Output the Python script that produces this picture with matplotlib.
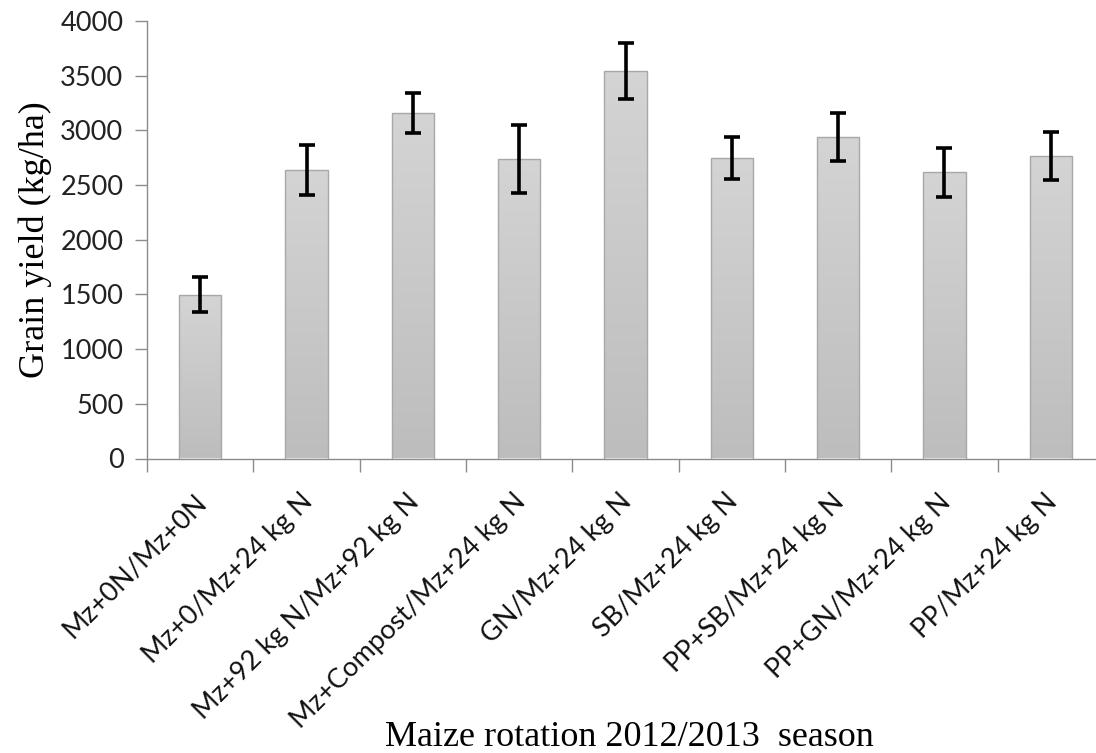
import numpy as np
import matplotlib.pyplot as plt
from matplotlib.ticker import FixedLocator
from matplotlib.colors import LinearSegmentedColormap

# maize grain yield per rotation treatment, 2012/2013
treatments = ["Mz+0N/Mz+0N", "Mz+0/Mz+24 kg N", "Mz+92 kg N/Mz+92 kg N",
              "Mz+Compost/Mz+24 kg N", "GN/Mz+24 kg N", "SB/Mz+24 kg N",
              "PP+SB/Mz+24 kg N", "PP+GN/Mz+24 kg N", "PP/Mz+24 kg N"]
yield_mean = [1495, 2640, 3160, 2740, 3545, 2750, 2940, 2615, 2765]
yield_err = [160, 230, 180, 310, 255, 190, 220, 225, 220]
yticks = [0, 500, 1000, 1500, 2000, 2500, 3000, 3500, 4000]

fig = plt.figure(figsize=(10.96, 7.53), dpi=100)
ax = fig.add_axes([147 / 1096, 1 - 458.5 / 753, 957 / 1096, 437.5 / 753])

x = np.arange(len(treatments))
bars = ax.bar(x, yield_mean, width=0.4, color="#c8c8c8", edgecolor="#a8a8a8",
              linewidth=1.0, zorder=2)

# soft vertical shading inside each bar
shade = LinearSegmentedColormap.from_list("shade", ["#bdbdbd", "#d4d4d4"])
grad = np.linspace(0, 1, 256).reshape(-1, 1)
for b in bars:
    x0, y0 = b.get_x(), b.get_y()
    im = ax.imshow(grad, extent=[x0, x0 + b.get_width(), y0, y0 + b.get_height()],
                   cmap=shade, aspect="auto", origin="lower", zorder=2.5)
    im.set_clip_path(b)
    b.set_facecolor("none")
    b.set_zorder(3)

ax.errorbar(x, yield_mean, yerr=yield_err, fmt="none", ecolor="black",
            elinewidth=2.6, capsize=5.5, capthick=2.6, zorder=4)

ax.set_xlim(-0.5, len(treatments) - 0.5)
ax.set_ylim(0, 4000)
ax.set_yticks(yticks)
ax.set_yticklabels([str(v) for v in yticks], fontsize=19.5, family="Lato",
                   color="#222222")

# category labels centred under bars, ticks drawn on the boundaries
ax.set_xticks(x - 0.06)
ax.set_xticklabels(treatments, rotation=45, ha="right", rotation_mode="anchor",
                   fontsize=19.5, family="Lato", color="#111111")
ax.tick_params(axis="x", which="major", length=0, pad=22)
ax.xaxis.set_minor_locator(FixedLocator(np.arange(-0.5, len(treatments), 1.0)))
ax.tick_params(axis="x", which="minor", length=9, width=1.0, color="#8c8c8c")
ax.tick_params(axis="y", length=9, width=1.0, color="#8c8c8c", pad=8)

for side in ["top", "right"]:
    ax.spines[side].set_visible(False)
for side in ["left", "bottom"]:
    ax.spines[side].set_color("#8c8c8c")
    ax.spines[side].set_linewidth(1.0)

ax.set_ylabel("Grain yield (kg/ha)", family="Liberation Serif", fontsize=26,
              labelpad=6)
fig.text(0.574, 0.009, "Maize rotation 2012/2013  season", family="Liberation Serif",
         fontsize=26, ha="center", va="baseline")

fig.savefig("out.png", dpi=100)
